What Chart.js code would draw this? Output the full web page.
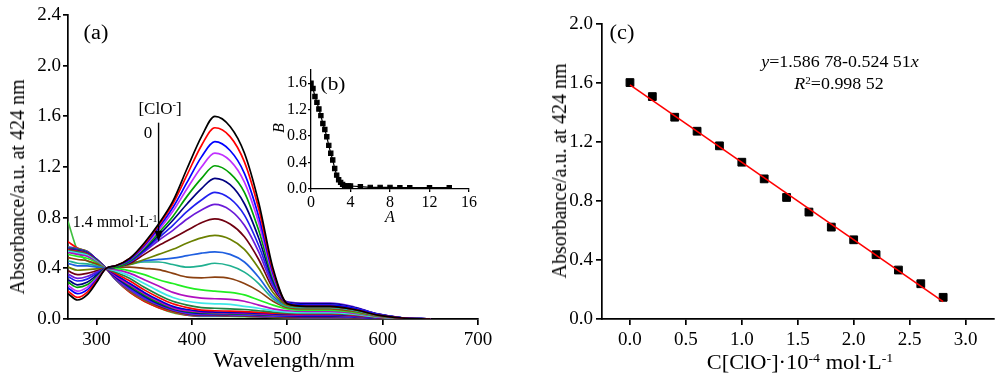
<!DOCTYPE html>
<html>
<head>
<meta charset="utf-8">
<script src="https://cdn.jsdelivr.net/npm/chart.js@4.4.1/dist/chart.umd.min.js"></script>
<style>
body { margin: 0; background: #fff; width: 1000px; height: 376px; position: relative; overflow: hidden; font-family: 'Liberation Serif', serif; color: #000; }
canvas { position: absolute; }
.lbl { position: absolute; white-space: nowrap; line-height: 1; transform: translate(-50%, -50%); }
.lbl sup { font-size: 0.62em; vertical-align: 0.55em; line-height: 0; }
.wide { transform: translate(-50%, -50%) scaleX(1.12); }
.rot { transform: translate(-50%, -50%) rotate(-90deg); }
</style>
</head>
<body>
<canvas id="chartA" width="500" height="376" style="left:0;top:0"></canvas>
<canvas id="chartB" width="240" height="170" style="left:250px;top:55px"></canvas>
<canvas id="chartC" width="500" height="376" style="left:500px;top:0"></canvas>

<div class="lbl rot" style="left:17px;top:187px;font-size:20px">Absorbance/a.u. at 424 nm</div>
<div class="lbl wide" style="left:284px;top:360px;font-size:20px">Wavelength/nm</div>
<div class="lbl wide" style="left:96px;top:32px;font-size:20px">(a)</div>
<div class="lbl" style="left:160px;top:108px;font-size:17px">[ClO<sup>-</sup>]</div>
<div class="lbl" style="left:148px;top:132px;font-size:17px">0</div>
<div class="lbl" style="left:115px;top:222px;font-size:16px">1.4 mmol·L<sup>-1</sup></div>
<div class="lbl wide" style="left:333px;top:83px;font-size:19px">(b)</div>
<div class="lbl rot" style="left:279px;top:128px;font-size:16px;font-style:italic">B</div>
<div class="lbl" style="left:390px;top:217px;font-size:16px;font-style:italic">A</div>

<div class="lbl rot" style="left:559px;top:171px;font-size:20px">Absorbance/a.u. at 424 nm</div>
<div class="lbl wide" style="left:800px;top:362px;font-size:20px">C[ClO<sup>-</sup>]·10<sup>-4</sup> mol·L<sup>-1</sup></div>
<div class="lbl wide" style="left:622px;top:32px;font-size:20px">(c)</div>
<div class="lbl wide" style="left:840px;top:62px;font-size:16px"><i>y</i>=1.586 78-0.524 51<i>x</i></div>
<div class="lbl wide" style="left:839px;top:84px;font-size:16px"><i>R</i><sup>2</sup>=0.998 52</div>

<script>
// (a) wavelength grid, nm
const WAVELENGTHS = [270, 280, 290, 300, 310, 320, 335, 350, 365, 380, 395, 410, 424, 440, 455, 470, 485, 500, 520, 545, 570, 595, 620, 650];

// (a) absorbance spectra, [ClO-] from 0 up to 1.4 mmol/L
const spec01 = [0.20, 0.15, 0.19, 0.29, 0.40, 0.42, 0.48, 0.60, 0.75, 0.93, 1.19, 1.44, 1.60, 1.52, 1.31, 0.92, 0.40, 0.12, 0.10, 0.10, 0.075, 0.03, 0.008, 0];
const spec02 = [0.22, 0.17, 0.21, 0.30, 0.40, 0.42, 0.48, 0.59, 0.74, 0.91, 1.14, 1.37, 1.51, 1.44, 1.24, 0.87, 0.38, 0.12, 0.10, 0.10, 0.075, 0.03, 0.008, 0];
const spec03 = [0.245, 0.20, 0.23, 0.31, 0.40, 0.42, 0.47, 0.58, 0.72, 0.88, 1.08, 1.28, 1.40, 1.33, 1.15, 0.81, 0.36, 0.125, 0.11, 0.11, 0.085, 0.035, 0.009, 0];
const spec04 = [0.265, 0.22, 0.25, 0.32, 0.40, 0.42, 0.47, 0.57, 0.70, 0.85, 1.03, 1.20, 1.31, 1.25, 1.08, 0.76, 0.34, 0.125, 0.11, 0.11, 0.085, 0.035, 0.009, 0];
const spec05 = [0.29, 0.25, 0.27, 0.33, 0.40, 0.41, 0.46, 0.56, 0.68, 0.81, 0.97, 1.11, 1.21, 1.15, 1.00, 0.70, 0.32, 0.125, 0.11, 0.11, 0.085, 0.035, 0.009, 0];
const spec06 = [0.31, 0.27, 0.29, 0.345, 0.40, 0.41, 0.46, 0.55, 0.66, 0.78, 0.91, 1.03, 1.11, 1.06, 0.91, 0.64, 0.30, 0.13, 0.12, 0.12, 0.09, 0.038, 0.01, 0];
const spec07 = [0.335, 0.30, 0.315, 0.36, 0.40, 0.41, 0.45, 0.54, 0.64, 0.74, 0.85, 0.94, 1.00, 0.95, 0.82, 0.58, 0.28, 0.13, 0.12, 0.12, 0.09, 0.038, 0.01, 0];
const spec08 = [0.355, 0.32, 0.335, 0.37, 0.40, 0.41, 0.45, 0.53, 0.62, 0.70, 0.79, 0.86, 0.905, 0.86, 0.74, 0.53, 0.26, 0.135, 0.125, 0.125, 0.095, 0.04, 0.01, 0];
const spec09 = [0.38, 0.35, 0.36, 0.38, 0.40, 0.41, 0.44, 0.51, 0.58, 0.64, 0.70, 0.76, 0.79, 0.75, 0.65, 0.47, 0.24, 0.12, 0.11, 0.11, 0.085, 0.035, 0.009, 0];
const spec10 = [0.41, 0.385, 0.39, 0.395, 0.40, 0.41, 0.43, 0.47, 0.51, 0.55, 0.60, 0.64, 0.66, 0.63, 0.55, 0.40, 0.21, 0.11, 0.10, 0.10, 0.075, 0.03, 0.008, 0];
const spec11 = [0.44, 0.42, 0.42, 0.41, 0.40, 0.41, 0.44, 0.46, 0.47, 0.48, 0.50, 0.52, 0.53, 0.51, 0.45, 0.33, 0.18, 0.11, 0.10, 0.10, 0.075, 0.03, 0.008, 0];
const spec12 = [0.46, 0.44, 0.435, 0.42, 0.40, 0.41, 0.43, 0.45, 0.45, 0.43, 0.41, 0.42, 0.44, 0.42, 0.37, 0.28, 0.16, 0.10, 0.09, 0.09, 0.068, 0.028, 0.007, 0];
const spec13 = [0.485, 0.47, 0.46, 0.435, 0.40, 0.41, 0.41, 0.40, 0.39, 0.36, 0.33, 0.325, 0.33, 0.32, 0.28, 0.22, 0.14, 0.09, 0.08, 0.08, 0.06, 0.025, 0.006, 0];
const spec14 = [0.51, 0.495, 0.48, 0.445, 0.40, 0.40, 0.38, 0.35, 0.31, 0.28, 0.25, 0.23, 0.22, 0.21, 0.19, 0.15, 0.11, 0.08, 0.07, 0.07, 0.053, 0.022, 0.006, 0];
const spec15 = [0.525, 0.51, 0.495, 0.45, 0.40, 0.39, 0.36, 0.31, 0.26, 0.21, 0.18, 0.165, 0.16, 0.155, 0.14, 0.11, 0.08, 0.065, 0.06, 0.06, 0.045, 0.019, 0.005, 0];
const spec16 = [0.535, 0.52, 0.505, 0.455, 0.40, 0.38, 0.34, 0.28, 0.22, 0.17, 0.14, 0.125, 0.12, 0.115, 0.10, 0.085, 0.065, 0.055, 0.05, 0.05, 0.038, 0.016, 0.004, 0];
const spec17 = [0.54, 0.53, 0.51, 0.46, 0.40, 0.37, 0.32, 0.25, 0.19, 0.14, 0.11, 0.09, 0.085, 0.08, 0.075, 0.065, 0.055, 0.048, 0.045, 0.045, 0.034, 0.014, 0.004, 0];
const spec18 = [0.545, 0.535, 0.515, 0.46, 0.40, 0.36, 0.30, 0.23, 0.17, 0.12, 0.09, 0.07, 0.065, 0.062, 0.058, 0.052, 0.046, 0.042, 0.04, 0.04, 0.03, 0.013, 0.003, 0];
const spec19 = [0.55, 0.54, 0.52, 0.465, 0.40, 0.35, 0.28, 0.21, 0.15, 0.10, 0.075, 0.06, 0.055, 0.053, 0.05, 0.045, 0.04, 0.036, 0.035, 0.035, 0.026, 0.011, 0.003, 0];
const spec20 = [0.55, 0.54, 0.52, 0.465, 0.40, 0.34, 0.27, 0.20, 0.14, 0.09, 0.065, 0.055, 0.05, 0.048, 0.045, 0.04, 0.035, 0.032, 0.03, 0.03, 0.023, 0.01, 0.002, 0];
const spec21 = [0.555, 0.545, 0.525, 0.465, 0.40, 0.34, 0.26, 0.19, 0.13, 0.085, 0.06, 0.05, 0.045, 0.043, 0.04, 0.036, 0.032, 0.03, 0.03, 0.03, 0.023, 0.01, 0.002, 0];
const spec22 = [0.555, 0.545, 0.525, 0.47, 0.40, 0.33, 0.25, 0.18, 0.12, 0.08, 0.055, 0.045, 0.045, 0.043, 0.04, 0.035, 0.03, 0.027, 0.025, 0.025, 0.019, 0.008, 0.002, 0];
const spec23 = [0.56, 0.55, 0.53, 0.47, 0.40, 0.33, 0.24, 0.17, 0.115, 0.075, 0.05, 0.04, 0.04, 0.038, 0.035, 0.03, 0.026, 0.022, 0.02, 0.02, 0.015, 0.007, 0.002, 0];
const spec24 = [0.56, 0.55, 0.53, 0.47, 0.40, 0.32, 0.23, 0.16, 0.11, 0.07, 0.045, 0.035, 0.035, 0.033, 0.03, 0.027, 0.023, 0.02, 0.02, 0.02, 0.015, 0.007, 0.002, 0];
const spec25 = [0.56, 0.55, 0.53, 0.47, 0.40, 0.32, 0.23, 0.16, 0.105, 0.065, 0.04, 0.03, 0.03, 0.028, 0.026, 0.023, 0.02, 0.017, 0.015, 0.015, 0.011, 0.005, 0.001, 0];
const spec26 = [0.565, 0.555, 0.535, 0.47, 0.40, 0.32, 0.22, 0.15, 0.10, 0.06, 0.04, 0.03, 0.03, 0.028, 0.026, 0.022, 0.019, 0.016, 0.015, 0.015, 0.011, 0.005, 0.001, 0];
const spec27 = [0.57, 0.555, 0.535, 0.47, 0.40, 0.31, 0.22, 0.15, 0.10, 0.06, 0.035, 0.025, 0.025, 0.024, 0.022, 0.019, 0.016, 0.013, 0.01, 0.01, 0.008, 0.004, 0.001, 0];
const spec28 = [0.61, 0.56, 0.53, 0.47, 0.40, 0.31, 0.21, 0.14, 0.09, 0.055, 0.03, 0.025, 0.025, 0.024, 0.022, 0.019, 0.015, 0.012, 0.01, 0.01, 0.008, 0.004, 0.001, 0];
const spec29 = [0.77, 0.54, 0.46, 0.43, 0.40, 0.31, 0.21, 0.14, 0.09, 0.05, 0.03, 0.02, 0.02, 0.02, 0.018, 0.016, 0.013, 0.011, 0.01, 0.01, 0.008, 0.004, 0.001, 0];

const SPECTRA = [spec01, spec02, spec03, spec04, spec05, spec06, spec07, spec08, spec09, spec10,
    spec11, spec12, spec13, spec14, spec15, spec16, spec17, spec18, spec19, spec20,
    spec21, spec22, spec23, spec24, spec25, spec26, spec27, spec28, spec29];

const SPEC_COLORS = ['#000000', '#ff0000', '#0000ff', '#c030ff', '#00a000', '#000080', '#2020f0', '#6a1ad8',
    '#700010', '#6b8000', '#1f5fe0', '#20b090', '#8b4010', '#22ee22', '#b010c0', '#40e8e8',
    '#208040', '#ff0000', '#0000cc', '#cc00cc', '#009900', '#000090', '#3030ff', '#7020e0',
    '#800000', '#808000', '#2060e0', '#ff0000', '#40c040'];

const A_X_TICKS = [300, 400, 500, 600, 700];
const A_Y_TICKS = [0, 0.4, 0.8, 1.2, 1.6, 2.0, 2.4];

// arrow in (a): wavelength, from / to absorbance
const ARROW_X = 365;
const ARROW_FROM = 1.55;
const ARROW_TO = 0.61;

// (b) inset: B (absorbance at 424 nm) vs A
const INSET_A = [0, 0.2, 0.4, 0.6, 0.8, 1.0, 1.2, 1.4, 1.6, 1.8, 2.0, 2.2, 2.4, 2.6, 2.8, 3.0, 3.2, 3.4, 3.6, 3.8, 4.0, 5, 6, 7, 8, 9, 10, 12, 14];
const INSET_B = [1.60, 1.52, 1.40, 1.31, 1.21, 1.11, 0.99, 0.90, 0.79, 0.66, 0.54, 0.44, 0.31, 0.21, 0.14, 0.10, 0.07, 0.05, 0.045, 0.045, 0.045, 0.035, 0.025, 0.025, 0.025, 0.02, 0.02, 0.02, 0.02];
const B_X_TICKS = [0, 4, 8, 12, 16];
const B_Y_TICKS = [0, 0.4, 0.8, 1.2, 1.6];

// (c) calibration
const CONC = [0, 0.2, 0.4, 0.6, 0.8, 1.0, 1.2, 1.4, 1.6, 1.8, 2.0, 2.2, 2.4, 2.6, 2.8];
const ABS_424 = [1.603, 1.508, 1.368, 1.273, 1.174, 1.063, 0.950, 0.824, 0.725, 0.623, 0.537, 0.436, 0.332, 0.239, 0.147];
const FIT_X = [0, 2.8];
const FIT_Y = [1.587, 0.118];
const C_X_TICKS = [0, 0.5, 1.0, 1.5, 2.0, 2.5, 3.0];
const C_Y_TICKS = [0, 0.4, 0.8, 1.2, 1.6, 2.0];

const FONT = 'Liberation Serif';

const toPoints = (xs, ys) => xs.map((x, i) => ({ x, y: ys[i] }));

// Build an outward-tick axis with fixed tick values
const makeAxis = (min, max, ticks, fontSize, tickLen, pad, lineW, fit, fmt) => ({
    type: 'linear',
    min,
    max,
    afterBuildTicks: (scale) => { scale.ticks = ticks.map(v => ({ value: v })); },
    afterFit: fit,
    grid: { display: true, drawOnChartArea: false, drawTicks: true, tickLength: tickLen, color: '#000', lineWidth: lineW },
    border: { display: true, color: '#000', width: lineW },
    ticks: {
        color: '#000',
        padding: pad,
        maxRotation: 0,
        autoSkip: false,
        font: { family: FONT, size: fontSize },
        callback: fmt
    }
});

// Arrow for panel (a)
const arrowPlugin = {
    id: 'arrow',
    afterDatasetsDraw: (chart) => {
        const { ctx, scales: { x, y } } = chart;
        const px = x.getPixelForValue(ARROW_X);
        const y0 = y.getPixelForValue(ARROW_FROM);
        const y1 = y.getPixelForValue(ARROW_TO);
        ctx.save();
        ctx.strokeStyle = '#000';
        ctx.fillStyle = '#000';
        ctx.lineWidth = 1.4;
        ctx.beginPath();
        ctx.moveTo(px, y0);
        ctx.lineTo(px, y1 - 8);
        ctx.stroke();
        ctx.beginPath();
        ctx.moveTo(px, y1);
        ctx.lineTo(px - 4, y1 - 11);
        ctx.lineTo(px + 4, y1 - 11);
        ctx.closePath();
        ctx.fill();
        ctx.restore();
    }
};

const init = () => {
    // Panel (a)
    new Chart(document.querySelector('#chartA'), {
        type: 'line',
        data: {
            datasets: SPECTRA.map((s, i) => ({
                data: toPoints(WAVELENGTHS, s),
                borderColor: SPEC_COLORS[i],
                borderWidth: 1.7,
                pointRadius: 0,
                cubicInterpolationMode: 'monotone',
                fill: false
            }))
        },
        options: {
            responsive: false,
            animation: false,
            devicePixelRatio: 1,
            layout: { padding: { top: 15, right: 22, left: 0, bottom: 0 } },
            plugins: { legend: { display: false }, tooltip: { enabled: false } },
            scales: {
                x: makeAxis(270, 700, A_X_TICKS, 19, 6, 4, 1.7, (s) => { s.height = 57; }, (v) => v),
                y: makeAxis(0, 2.4, A_Y_TICKS, 19, 5, 2, 1.7, (s) => { s.width = 68; }, (v) => v.toFixed(1))
            }
        },
        plugins: [arrowPlugin]
    });

    // Panel (b) inset
    new Chart(document.querySelector('#chartB'), {
        type: 'line',
        data: {
            datasets: [{
                data: toPoints(INSET_A, INSET_B),
                borderColor: '#000',
                backgroundColor: '#000',
                borderWidth: 1.2,
                pointStyle: 'rect',
                pointRadius: 3,
                tension: 0
            }]
        },
        options: {
            responsive: false,
            animation: false,
            devicePixelRatio: 1,
            layout: { padding: { top: 15, right: 21, left: 0, bottom: 0 } },
            plugins: { legend: { display: false }, tooltip: { enabled: false } },
            scales: {
                x: makeAxis(0, 16, B_X_TICKS, 16, 3, 1, 1.3, (s) => { s.height = 36; }, (v) => v),
                y: makeAxis(0, 1.8, B_Y_TICKS, 16, 3, 1, 1.3, (s) => { s.width = 61; }, (v) => v.toFixed(1))
            }
        }
    });

    // Panel (c)
    new Chart(document.querySelector('#chartC'), {
        type: 'line',
        data: {
            datasets: [{
                data: toPoints(FIT_X, FIT_Y),
                borderColor: '#ff0000',
                borderWidth: 1.6,
                pointRadius: 0
            }, {
                data: toPoints(CONC, ABS_424),
                showLine: false,
                pointStyle: 'rect',
                pointRadius: 5.5,
                pointBackgroundColor: '#000',
                pointBorderColor: '#000'
            }]
        },
        options: {
            responsive: false,
            animation: false,
            devicePixelRatio: 1,
            layout: { padding: { top: 24, right: 0, left: 0, bottom: 0 } },
            plugins: { legend: { display: false }, tooltip: { enabled: false } },
            scales: {
                x: makeAxis(-0.25, 3.25, C_X_TICKS, 19, 6, 4, 1.7, (s) => { s.height = 57; }, (v) => v.toFixed(1)),
                y: makeAxis(0, 2.0, C_Y_TICKS, 19, 6, 3, 1.7, (s) => { s.width = 102; }, (v) => v.toFixed(1))
            }
        }
    });
};

if (document.readyState === 'loading') {
    document.addEventListener('DOMContentLoaded', init);
} else {
    init();
}
</script>
</body>
</html>
